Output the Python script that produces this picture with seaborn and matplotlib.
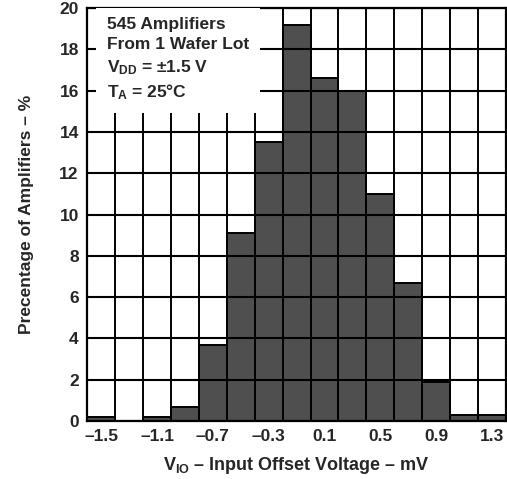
import numpy as np
import seaborn as sns
import matplotlib.pyplot as plt

# bin centres (mV) and percentage of amplifiers
vio_centers = [-1.5, -1.3, -1.1, -0.9, -0.7, -0.5, -0.3, -0.1, 0.1, 0.3, 0.5, 0.7, 0.9, 1.1, 1.3]
pct_amps = [0.2, 0.0, 0.2, 0.7, 3.7, 9.1, 13.5, 19.2, 16.6, 16.0, 11.0, 6.7, 1.9, 0.3, 0.3]
xtick_vals = [-1.5, -1.1, -0.7, -0.3, 0.1, 0.5, 0.9, 1.3]
ytick_vals = [0, 2, 4, 6, 8, 10, 12, 14, 16, 18, 20]

sns.set_style('white')
plt.rcParams['font.family'] = ['Liberation Sans', 'DejaVu Sans']
plt.rcParams['font.weight'] = 'bold'
plt.rcParams['mathtext.fontset'] = 'custom'
plt.rcParams['mathtext.rm'] = 'Liberation Sans:bold'
plt.rcParams['mathtext.it'] = 'Liberation Sans:bold'
plt.rcParams['mathtext.bf'] = 'Liberation Sans:bold'

rect = [0.172, 0.121, 0.826, 0.862]
fig = plt.figure(figsize=(5.07, 4.79), dpi=100)
ax = fig.add_axes(rect)

sns.histplot(x=vio_centers, weights=pct_amps, binwidth=0.2, binrange=(-1.6, 1.4),
             color='#4f4f4f', edgecolor='black', linewidth=1.4, alpha=1, ax=ax)

ax.set_xlim(-1.6, 1.4)
ax.set_ylim(0, 20)
ax.set_xticks(xtick_vals)
ax.set_xticklabels(['\u2013' + f'{abs(v):.1f}' if v < 0 else f'{v:.1f}' for v in xtick_vals])
ax.set_yticks(ytick_vals)
ax.tick_params(axis='both', which='both', length=0, labelsize=12.5, pad=6)
for s in ax.spines.values():
    s.set_color('black')
    s.set_linewidth(1.6)

ax.set_ylabel('Precentage of Amplifiers \u2013 %', fontsize=12.5, fontweight='bold', labelpad=18)
ax.set_xlabel('$V_{IO}$ \u2013 Input Offset Voltage \u2013 mV', fontsize=13, fontweight='bold', labelpad=8)

# transparent overlay so the grid shows through the bars, as in the original
top = fig.add_axes(rect, sharex=ax, sharey=ax)
top.patch.set_visible(False)
top.axis('off')
top.vlines(np.arange(-1.6, 1.41, 0.2), 0, 20, color='black', linewidth=1.4)
top.hlines(ytick_vals, -1.6, 1.4, color='black', linewidth=1.5)
top.set_xlim(-1.6, 1.4)
top.set_ylim(0, 20)

top.text(-1.46, 19.55, '545 Amplifiers\nFrom 1 Wafer Lot\n$V_{DD}$ = \u00b11.5 V\n$T_A$ = 25\u00b0C',
         fontsize=12.5, fontweight='bold', va='top', ha='left', linespacing=1.4, zorder=12,
         bbox=dict(facecolor='white', edgecolor='none', pad=8))

fig.savefig('out.png', dpi=100)
